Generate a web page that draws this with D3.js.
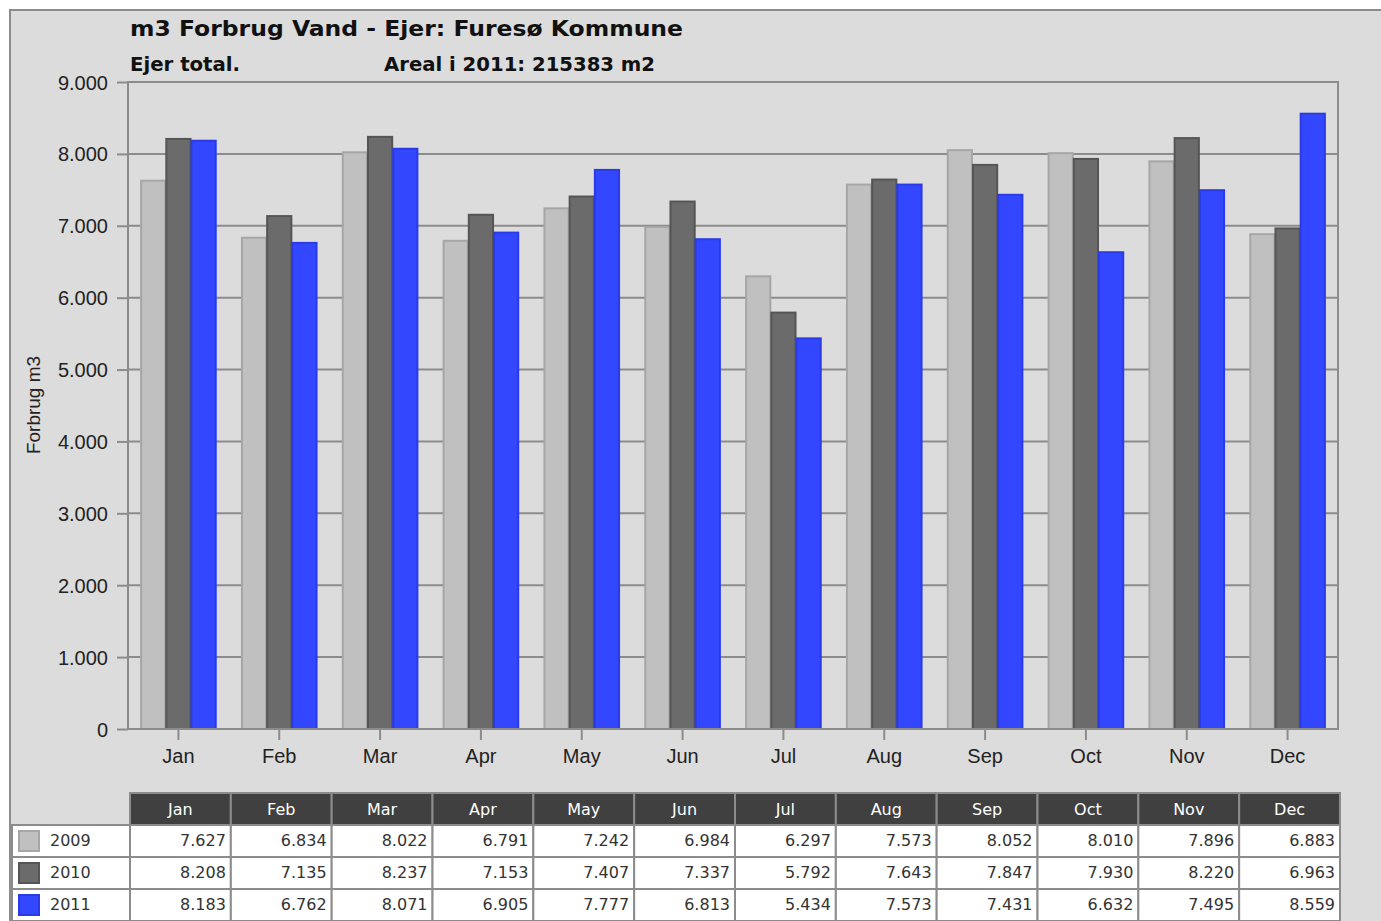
<!DOCTYPE html>
<html>
<head>
<meta charset="utf-8">
<script src="https://cdn.jsdelivr.net/npm/d3@7"></script>
<style>
  body { margin: 0; background: #fff; }
  svg { display: block; }
  .axis text { font-family: "Liberation Sans", Arial, sans-serif; font-size: 20px; fill: #222; }
  .axis path { display: none; }
  .axis line { stroke: #8c8c8c; stroke-width: 2px; }
  .tbl text { font-family: "DejaVu Sans", Tahoma, sans-serif; font-size: 16px; }
</style>
</head>
<body>
<div id="chart"></div>
<script>
// data
var months = ["Jan", "Feb", "Mar", "Apr", "May", "Jun", "Jul", "Aug", "Sep", "Oct", "Nov", "Dec"];
var years = ["2009", "2010", "2011"];
var values2009 = [7627, 6834, 8022, 6791, 7242, 6984, 6297, 7573, 8052, 8010, 7896, 6883];
var values2010 = [8208, 7135, 8237, 7153, 7407, 7337, 5792, 7643, 7847, 7930, 8220, 6963];
var values2011 = [8183, 6762, 8071, 6905, 7777, 6813, 5434, 7573, 7431, 6632, 7495, 8559];
var yTicks = [0, 1000, 2000, 3000, 4000, 5000, 6000, 7000, 8000, 9000];

var series = [values2009, values2010, values2011];
var fills = ["#c0c0c0", "#6b6b6b", "#3347ff"];
var strokes = ["#a6a6a6", "#555555", "#2a3be6"];

var W = 1381, H = 921;
var plot = {left: 128, top: 82, right: 1338, bottom: 729};

var loc = d3.formatLocale({decimal: ",", thousands: ".", grouping: [3], currency: ["", ""]});
var fmt = loc.format(",");

var svg = d3.select("#chart").append("svg")
    .attr("width", W)
    .attr("height", H);

// outer panel
svg.append("rect")
    .attr("x", 10).attr("y", 10)
    .attr("width", W + 20).attr("height", H + 20)
    .attr("fill", "#dcdcdc")
    .attr("stroke", "#8c8c8c")
    .attr("stroke-width", 2);

// titles
svg.append("text").attr("x", 130).attr("y", 36)
    .attr("font-family", "DejaVu Sans, Tahoma, sans-serif")
    .attr("font-size", 22).attr("font-weight", "bold").attr("fill", "#111")
    .attr("textLength", 553).attr("lengthAdjust", "spacingAndGlyphs")
    .text("m3 Forbrug Vand - Ejer: Furesø Kommune");

svg.append("text").attr("x", 130).attr("y", 71)
    .attr("font-family", "DejaVu Sans Condensed, DejaVu Sans, sans-serif")
    .attr("font-size", 19).attr("font-weight", "bold").attr("fill", "#111")
    .attr("textLength", 110).attr("lengthAdjust", "spacingAndGlyphs")
    .text("Ejer total.");

svg.append("text").attr("x", 384).attr("y", 71)
    .attr("font-family", "DejaVu Sans Condensed, DejaVu Sans, sans-serif")
    .attr("font-size", 19).attr("font-weight", "bold").attr("fill", "#111")
    .attr("textLength", 271).attr("lengthAdjust", "spacingAndGlyphs")
    .text("Areal i 2011: 215383 m2");

var x0 = d3.scaleBand().domain(months).range([plot.left, plot.right])
    .paddingInner(0.25).paddingOuter(0.125);
var x1 = d3.scaleBand().domain(years).range([0, x0.bandwidth()]);
var y = d3.scaleLinear().domain([0, 9000]).range([plot.bottom, plot.top]);

// grid
svg.append("g").selectAll("line")
    .data(yTicks.filter(d => d > 0 && d < 9000))
    .enter().append("line")
    .attr("x1", plot.left).attr("x2", plot.right)
    .attr("y1", d => y(d)).attr("y2", d => y(d))
    .attr("stroke", "#8c8c8c").attr("stroke-width", 2);

// bars
var groups = svg.append("g").selectAll("g")
    .data(months)
    .enter().append("g")
    .attr("transform", d => "translate(" + x0(d) + ",0)");

groups.selectAll("rect")
    .data((m, i) => years.map((yr, j) => ({year: yr, j: j, v: series[j][i]})))
    .enter().append("rect")
    .attr("x", d => x1(d.year) + 0.5)
    .attr("y", d => y(d.v))
    .attr("width", x1.bandwidth() - 1)
    .attr("height", d => y(0) - y(d.v))
    .attr("fill", d => fills[d.j])
    .attr("stroke", d => strokes[d.j])
    .attr("stroke-width", 2);

// plot border
svg.append("rect")
    .attr("x", plot.left).attr("y", plot.top)
    .attr("width", plot.right - plot.left).attr("height", plot.bottom - plot.top)
    .attr("fill", "none").attr("stroke", "#8c8c8c").attr("stroke-width", 2);

// axes
svg.append("g").attr("class", "axis")
    .attr("transform", "translate(" + plot.left + ",0)")
    .call(d3.axisLeft(y).tickValues(yTicks).tickFormat(fmt).tickSize(11).tickPadding(9))
    .selectAll("text").attr("dy", "0.35em");

svg.append("g").attr("class", "axis")
    .attr("transform", "translate(0," + plot.bottom + ")")
    .call(d3.axisBottom(x0).tickSize(11).tickPadding(9));

svg.append("text")
    .attr("transform", "translate(40,405) rotate(-90)")
    .attr("text-anchor", "middle")
    .attr("font-family", "Liberation Sans, Arial, sans-serif")
    .attr("font-size", 19).attr("fill", "#222")
    .text("Forbrug m3");

// data table
var tx = d3.scaleBand().domain(months).range([130, 1340]);
var rowY = d3.scaleBand().domain(["head"].concat(years)).range([793, 921]);
var tbl = svg.append("g").attr("class", "tbl");

tbl.selectAll(".hcell")
    .data(months)
    .enter().append("rect")
    .attr("x", d => tx(d)).attr("y", rowY("head"))
    .attr("width", tx.bandwidth()).attr("height", rowY.bandwidth())
    .attr("fill", "#404040").attr("stroke", "#8c8c8c").attr("stroke-width", 2);

tbl.selectAll(".htext")
    .data(months)
    .enter().append("text")
    .attr("x", d => tx(d) + tx.bandwidth() / 2)
    .attr("y", rowY("head") + rowY.bandwidth() / 2)
    .attr("dy", "0.35em").attr("text-anchor", "middle").attr("fill", "#fff")
    .text(d => d);

years.forEach((yr, j) => {
    var ry = rowY(yr);
    tbl.append("rect")
        .attr("x", 12).attr("y", ry)
        .attr("width", 118).attr("height", rowY.bandwidth())
        .attr("fill", "#fff").attr("stroke", "#8c8c8c").attr("stroke-width", 2);
    tbl.append("rect")
        .attr("x", 19).attr("y", ry + 6)
        .attr("width", 20).attr("height", 20)
        .attr("fill", fills[j]).attr("stroke", strokes[j]).attr("stroke-width", 2);
    tbl.append("text")
        .attr("x", 50).attr("y", ry + rowY.bandwidth() / 2 - 1)
        .attr("dy", "0.35em").attr("fill", "#333")
        .text(yr);

    tbl.selectAll(".c" + yr)
        .data(months)
        .enter().append("rect")
        .attr("x", d => tx(d)).attr("y", ry)
        .attr("width", tx.bandwidth()).attr("height", rowY.bandwidth())
        .attr("fill", "#fff").attr("stroke", "#8c8c8c").attr("stroke-width", 2);

    tbl.selectAll(".t" + yr)
        .data(series[j])
        .enter().append("text")
        .attr("x", (d, i) => tx(months[i]) + tx.bandwidth() - 5)
        .attr("y", ry + rowY.bandwidth() / 2 - 1)
        .attr("dy", "0.35em").attr("text-anchor", "end").attr("fill", "#333")
        .text(d => fmt(d));
});
</script>
</body>
</html>
